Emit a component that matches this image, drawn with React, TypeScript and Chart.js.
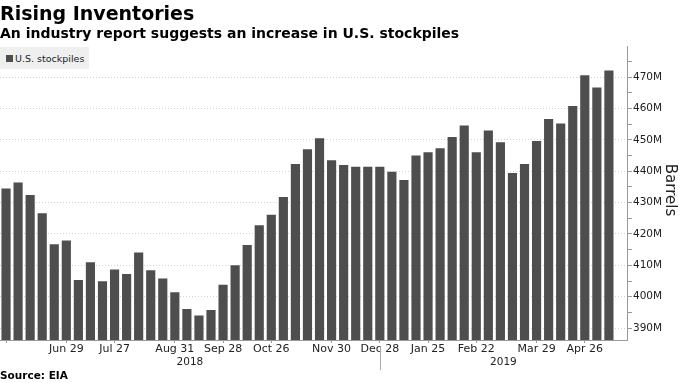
import React, { useEffect, useRef } from "react";
import { Chart, registerables } from "chart.js";

Chart.register(...registerables);

// Weekly observation dates (last slot is an empty trailing week on the axis)
const weeks = [
  "2018-05-25", "2018-06-01", "2018-06-08", "2018-06-15", "2018-06-22", "2018-06-29",
  "2018-07-06", "2018-07-13", "2018-07-20", "2018-07-27", "2018-08-03", "2018-08-10",
  "2018-08-17", "2018-08-24", "2018-08-31", "2018-09-07", "2018-09-14", "2018-09-21",
  "2018-09-28", "2018-10-05", "2018-10-12", "2018-10-19", "2018-10-26", "2018-11-02",
  "2018-11-09", "2018-11-16", "2018-11-23", "2018-11-30", "2018-12-07", "2018-12-14",
  "2018-12-21", "2018-12-28", "2019-01-04", "2019-01-11", "2019-01-18", "2019-01-25",
  "2019-02-01", "2019-02-08", "2019-02-15", "2019-02-22", "2019-03-01", "2019-03-08",
  "2019-03-15", "2019-03-22", "2019-03-29", "2019-04-05", "2019-04-12", "2019-04-19",
  "2019-04-26", "2019-05-03", "2019-05-10", "2019-05-17",
];

// U.S. crude stockpiles, million barrels
const stockpiles: (number | null)[] = [
  434.5, 436.4, 432.4, 426.6, 416.7, 417.9, 405.3, 411.0, 404.9, 408.7,
  407.2, 414.1, 408.4, 405.8, 401.4, 396.1, 394.0, 395.8, 403.8, 410.0,
  416.5, 422.8, 426.1, 431.8, 442.3, 447.0, 450.5, 443.5, 442.0, 441.4,
  441.4, 441.4, 439.8, 437.2, 445.0, 446.0, 447.3, 450.9, 454.6, 446.0,
  453.0, 449.2, 439.4, 442.3, 449.6, 456.6, 455.2, 460.8, 470.6, 466.7,
  472.1, null,
];

// Dates that carry a label on the x axis
const tickDates = [
  "2018-06-29", "2018-07-27", "2018-08-31", "2018-09-28", "2018-10-26", "2018-11-30",
  "2018-12-28", "2019-01-25", "2019-02-22", "2019-03-29", "2019-04-26",
];

const yMin = 386.2;
const yMax = 479.9;
const seriesName = "U.S. stockpiles";
const axisTitle = "Barrels";

const MONTHS = ["Jan", "Feb", "Mar", "Apr", "May", "Jun", "Jul", "Aug", "Sep", "Oct", "Nov", "Dec"];
const fmtDate = (d: string) => {
  const [, m, dd] = d.split("-");
  return MONTHS[parseInt(m, 10) - 1] + " " + parseInt(dd, 10);
};

const FONT = "'DejaVu Sans', Verdana, sans-serif";
const BAR = "#4e4e4e";

const yearPlugin = {
  id: "yearPlugin",
  afterDraw(chart: any) {
    const { ctx, chartArea, scales } = chart;
    const x = scales.x;
    const years: { year: string; first: number; last: number }[] = [];
    weeks.forEach((w, i) => {
      const y = w.slice(0, 4);
      const g = years[years.length - 1];
      if (!g || g.year !== y) years.push({ year: y, first: i, last: i });
      else g.last = i;
    });
    ctx.save();
    ctx.font = `10.5px ${FONT}`;
    ctx.fillStyle = "#222";
    ctx.textAlign = "center";
    ctx.textBaseline = "middle";
    let left = chartArea.left;
    years.forEach((g, k) => {
      const right = k < years.length - 1 ? x.getPixelForValue(g.last) : chartArea.right;
      ctx.fillText(g.year, (left + right) / 2, chartArea.bottom + 22.5);
      if (k < years.length - 1) {
        ctx.strokeStyle = "#aaa";
        ctx.lineWidth = 1;
        ctx.beginPath();
        const px = Math.round(right) + 0.5;
        ctx.moveTo(px, chartArea.bottom + 6);
        ctx.lineTo(px, chartArea.bottom + 30);
        ctx.stroke();
      }
      left = right;
    });
    // axis title
    ctx.font = `15px ${FONT}`;
    ctx.fillStyle = "#222";
    ctx.translate(chart.width - 10, (chartArea.top + chartArea.bottom) / 2 - 3);
    ctx.rotate(Math.PI / 2);
    ctx.fillText(axisTitle, 0, 0);
    ctx.restore();
  },
};

export default function App() {
  const canvasRef = useRef<HTMLCanvasElement | null>(null);

  useEffect(() => {
    document.body.style.margin = "0";
    const canvas = canvasRef.current!;
    const chart = new Chart(canvas, {
      type: "bar",
      data: {
        labels: weeks,
        datasets: [
          {
            label: seriesName,
            data: stockpiles,
            backgroundColor: BAR,
            borderWidth: 0,
            barPercentage: 0.76,
            categoryPercentage: 1,
          },
        ],
      },
      options: {
        animation: false,
        responsive: false,
        maintainAspectRatio: false,
        devicePixelRatio: 1,
        layout: { padding: { top: 46, left: 0, right: 0, bottom: 0 } },
        plugins: {
          legend: { display: false },
          tooltip: { enabled: false },
          title: { display: false },
        },
        scales: {
          x: {
            type: "category",
            offset: true,
            afterFit: (axis: any) => {
              axis.height = 43;
            },
            border: { display: true, color: "#999", width: 1 },
            grid: {
              display: true,
              drawOnChartArea: false,
              offset: false,
              drawTicks: true,
              tickLength: 3,
              tickColor: (c: any) =>
                c.tick && (tickDates.includes(weeks[c.index]) || c.index === 0) ? "#999" : "rgba(0,0,0,0)",
            },
            ticks: {
              autoSkip: false,
              maxRotation: 0,
              minRotation: 0,
              padding: 0,
              color: "#222",
              font: { family: FONT, size: 11 },
              callback: (_v: any, i: number) => (tickDates.includes(weeks[i]) ? fmtDate(weeks[i]) : ""),
            },
          },
          y: {
            type: "linear",
            position: "right",
            min: yMin,
            max: yMax,
            afterFit: (axis: any) => {
              axis.width = 53;
            },
            border: { display: true, color: "#999", width: 1, dash: [1, 2] },
            grid: {
              display: true,
              drawOnChartArea: true,
              color: (c: any) => (c.tick && Math.round(c.tick.value) % 10 === 0 ? "#d2d2d2" : "rgba(0,0,0,0)"),
              tickColor: "#999",
              tickLength: 5,
              tickBorderDash: [],
              lineWidth: 1,
            },
            ticks: {
              stepSize: 5,
              includeBounds: false,
              padding: 1,
              color: "#222",
              font: { family: FONT, size: 10.5 },
              callback: (v: any) => (Math.round(v) % 10 === 0 ? `${Math.round(v)}M` : ""),
            },
          },
        },
      },
      plugins: [yearPlugin],
    } as any);
    return () => chart.destroy();
  }, []);

  return (
    <div style={{ position: "fixed", left: 0, top: 0, width: 680, height: 383, background: "#fff", overflow: "hidden" }}>
      <canvas ref={canvasRef} width={680} height={383} style={{ position: "absolute", left: 0, top: 0, width: 680, height: 383 }} />
      <div style={{ position: "absolute", left: 0, top: 1, fontFamily: FONT, fontWeight: "bold", fontSize: 19, color: "#000", lineHeight: "24px", whiteSpace: "nowrap" }}>
        Rising Inventories
      </div>
      <div style={{ position: "absolute", left: 0, top: 24, fontFamily: FONT, fontWeight: "bold", fontSize: 14, color: "#000", lineHeight: "18px", whiteSpace: "nowrap" }}>
        An industry report suggests an increase in U.S. stockpiles
      </div>
      <div style={{ position: "absolute", left: 0, top: 47, width: 89, height: 22, background: "#efefef", display: "flex", alignItems: "center", fontFamily: FONT, fontSize: 9.5, color: "#222", whiteSpace: "nowrap" }}>
        <span style={{ display: "inline-block", width: 7, height: 7, background: BAR, marginLeft: 6, marginRight: 2 }} />
        {seriesName}
      </div>
      <div style={{ position: "absolute", left: 0, top: 368, fontFamily: FONT, fontWeight: "bold", fontSize: 10.5, color: "#000", lineHeight: "14px", whiteSpace: "nowrap" }}>
        Source: EIA
      </div>
    </div>
  );
}
